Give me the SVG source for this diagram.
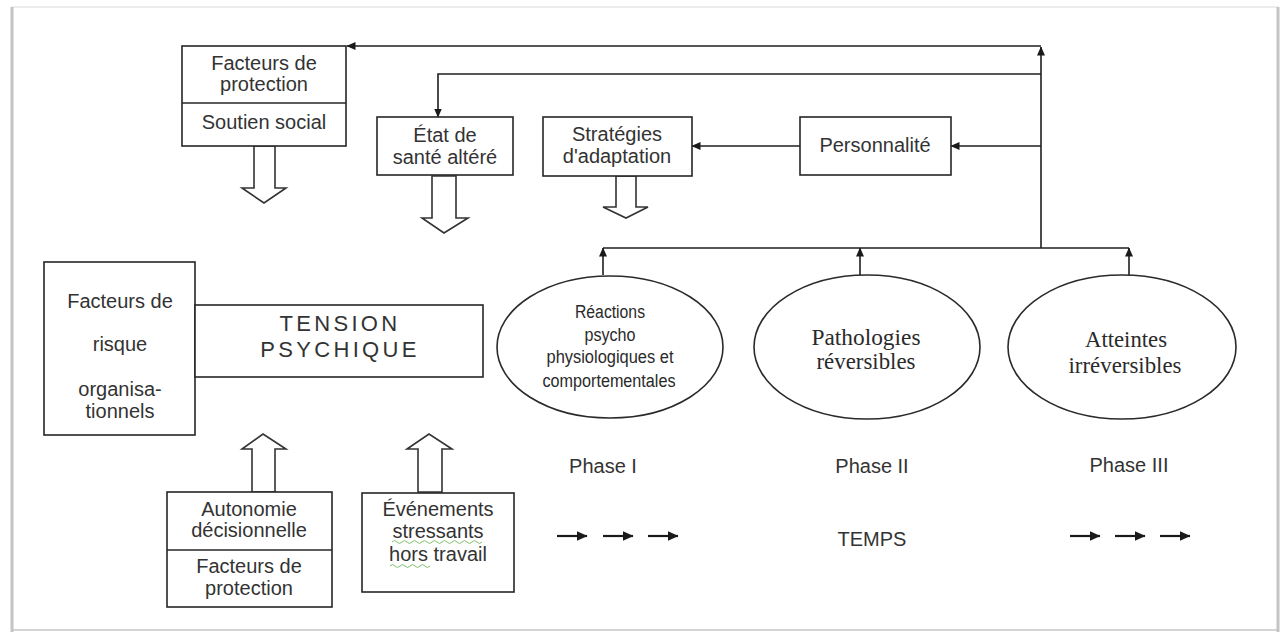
<svg xmlns="http://www.w3.org/2000/svg" width="1285" height="632" viewBox="0 0 1285 632">
<defs>
<marker id="ah" markerWidth="9" markerHeight="8" refX="8.5" refY="4" orient="auto" markerUnits="userSpaceOnUse">
<path d="M0,0 L9,4 L0,8 Z" fill="#1a1a1a"/>
</marker>
<marker id="sh" markerWidth="11" markerHeight="10" refX="10.5" refY="5" orient="auto" markerUnits="userSpaceOnUse">
<path d="M0,0 L11,5 L0,10 Z" fill="#1a1a1a"/>
</marker>
</defs>
<style>
.box{fill:#fff;stroke:#262626;stroke-width:1.6}
.ell{fill:#fff;stroke:#2a2a2a;stroke-width:1.6}
.hol{fill:#fff;stroke:#333;stroke-width:1.6;stroke-linejoin:miter}
.con{fill:none;stroke:#1f1f1f;stroke-width:1.6}
.sm{fill:none;stroke:#1a1a1a;stroke-width:2.2}
.t{font-family:"Liberation Sans",Arial,sans-serif;font-size:20px;fill:#333;text-anchor:middle}
.n{font-family:"Liberation Sans",Arial,sans-serif;font-size:18px;fill:#2a2a2a;text-anchor:middle}
.s{font-family:"Liberation Serif","Times New Roman",serif;font-size:23px;fill:#2a2a2a;text-anchor:middle}
.big{font-family:"Liberation Sans",Arial,sans-serif;font-size:22px;fill:#333;text-anchor:middle;letter-spacing:3.3px}
.wav{fill:none;stroke:#7fbf6a;stroke-width:1}
</style>
<rect width="1285" height="632" fill="#fff"/>
<g id="frame">
<line x1="12" y1="7" x2="1278" y2="7" stroke="#ececec" stroke-width="2"/>
<line x1="12" y1="630" x2="1278" y2="630" stroke="#d4d4d4" stroke-width="2"/>
<line x1="12" y1="7" x2="12" y2="632" stroke="#c4c4c4" stroke-width="3"/>
<line x1="1278" y1="7" x2="1278" y2="632" stroke="#c4c4c4" stroke-width="3"/>
</g>
<g id="connectors">
<polyline class="con" points="1041,248 1041,47" marker-end="url(#ah)"/>
<polyline class="con" points="1041,46 347,46" marker-end="url(#ah)"/>
<polyline class="con" points="1041,74 438,74 438,117" marker-end="url(#ah)"/>
<polyline class="con" points="1041,146 951,146" marker-end="url(#ah)"/>
<polyline class="con" points="800,146 692,146" marker-end="url(#ah)"/>
<line class="con" x1="603" y1="248" x2="1129" y2="248"/>
<polyline class="con" points="603,275 603,248" marker-end="url(#ah)"/>
<polyline class="con" points="860,275 860,248" marker-end="url(#ah)"/>
<polyline class="con" points="1129,275 1129,248" marker-end="url(#ah)"/>
<polygon class="hol" points="254,146 275,146 275,188 286,188 264,203 242,188 254,188"/>
<polygon class="hol" points="432,176 456,176 456,218 468,218 444,233 422,218 432,218"/>
<polygon class="hol" points="616,176 636,176 636,207 648,207 626,218 603,207 616,207"/>
<polygon class="hol" points="252,492 275,492 275,449 286,449 263,434 242,449 252,449"/>
<polygon class="hol" points="418,492 442,492 442,449 452,449 429,434 407,449 418,449"/>
<line class="sm" x1="557" y1="536" x2="587" y2="536" marker-end="url(#sh)"/>
<line class="sm" x1="603" y1="536" x2="633" y2="536" marker-end="url(#sh)"/>
<line class="sm" x1="648" y1="536" x2="678" y2="536" marker-end="url(#sh)"/>
<line class="sm" x1="1070" y1="536" x2="1100" y2="536" marker-end="url(#sh)"/>
<line class="sm" x1="1115" y1="536" x2="1145" y2="536" marker-end="url(#sh)"/>
<line class="sm" x1="1160" y1="536" x2="1190" y2="536" marker-end="url(#sh)"/>
</g>
<g id="protection-social">
<rect class="box" x="182" y="46" width="164" height="100"/>
<line class="box" x1="182" y1="103" x2="346" y2="103"/>
<text class="t" x="264" y="70">Facteurs de</text>
<text class="t" x="264" y="91">protection</text>
<text class="t" x="264" y="129">Soutien social</text>
</g>
<g id="etat-sante">
<rect class="box" x="377" y="117" width="136" height="58"/>
<text class="t" x="445" y="142">État de</text>
<text class="t" x="445" y="164">santé altéré</text>
</g>
<g id="strategies">
<rect class="box" x="543" y="117" width="149" height="59"/>
<text class="t" x="617" y="141">Stratégies</text>
<text class="t" x="617" y="163">d'adaptation</text>
</g>
<g id="personnalite">
<rect class="box" x="800" y="117" width="151" height="58"/>
<text class="t" x="875" y="152">Personnalité</text>
</g>
<g id="risque">
<rect class="box" x="44" y="262" width="151" height="173"/>
<text class="t" x="120" y="308">Facteurs de</text>
<text class="t" x="120" y="351">risque</text>
<text class="t" x="120" y="396">organisa-</text>
<text class="t" x="120" y="418">tionnels</text>
</g>
<g id="tension">
<rect class="box" x="195" y="305" width="288" height="72"/>
<text class="big" x="340" y="331">TENSION</text>
<text class="big" x="340" y="357">PSYCHIQUE</text>
</g>
<g id="autonomie">
<rect class="box" x="167" y="492" width="165" height="115"/>
<line class="box" x1="167" y1="550" x2="332" y2="550"/>
<text class="t" x="249" y="516">Autonomie</text>
<text class="t" x="249" y="537">décisionnelle</text>
<text class="t" x="249" y="573">Facteurs de</text>
<text class="t" x="249" y="595">protection</text>
</g>
<g id="evenements">
<rect class="box" x="362" y="493" width="152" height="99"/>
<text class="t" x="438" y="516">Événements</text>
<text class="t" x="438" y="538">stressants</text>
<text class="t" x="438" y="561">hors travail</text>
<path class="wav" d="M392,542 q2.5,-3 5,0 t5,0 t5,0 t5,0 t5,0 t5,0 t5,0 t5,0 t5,0 t5,0 t5,0 t5,0 t5,0 t5,0 t5,0 t5,0 t5,0 t5,0"/>
<path class="wav" d="M390,566 q2.5,-3 5,0 t5,0 t5,0 t5,0 t5,0 t5,0 t5,0 t5,0"/>
</g>
<g id="phase1">
<ellipse class="ell" cx="610" cy="347" rx="113" ry="71"/>
<text class="n" x="610" y="318" textLength="70" lengthAdjust="spacingAndGlyphs">Réactions</text>
<text class="n" x="610" y="341" textLength="51" lengthAdjust="spacingAndGlyphs">psycho</text>
<text class="n" x="610" y="363" textLength="127" lengthAdjust="spacingAndGlyphs">physiologiques et</text>
<text class="n" x="609" y="387" textLength="133" lengthAdjust="spacingAndGlyphs">comportementales</text>
</g>
<g id="phase2">
<ellipse class="ell" cx="867" cy="347" rx="113" ry="72"/>
<text class="s" x="866" y="345" textLength="109" lengthAdjust="spacingAndGlyphs">Pathologies</text>
<text class="s" x="866" y="369" textLength="99" lengthAdjust="spacingAndGlyphs">réversibles</text>
</g>
<g id="phase3">
<ellipse class="ell" cx="1122" cy="347" rx="114" ry="72"/>
<text class="s" x="1126" y="347" textLength="82" lengthAdjust="spacingAndGlyphs">Atteintes</text>
<text class="s" x="1125" y="373" textLength="113" lengthAdjust="spacingAndGlyphs">irréversibles</text>
</g>
<g id="labels">
<text class="t" x="603" y="473">Phase I</text>
<text class="t" x="872" y="473">Phase II</text>
<text class="t" x="1129" y="472">Phase III</text>
<text class="t" x="872" y="546">TEMPS</text>
</g>
</svg>
